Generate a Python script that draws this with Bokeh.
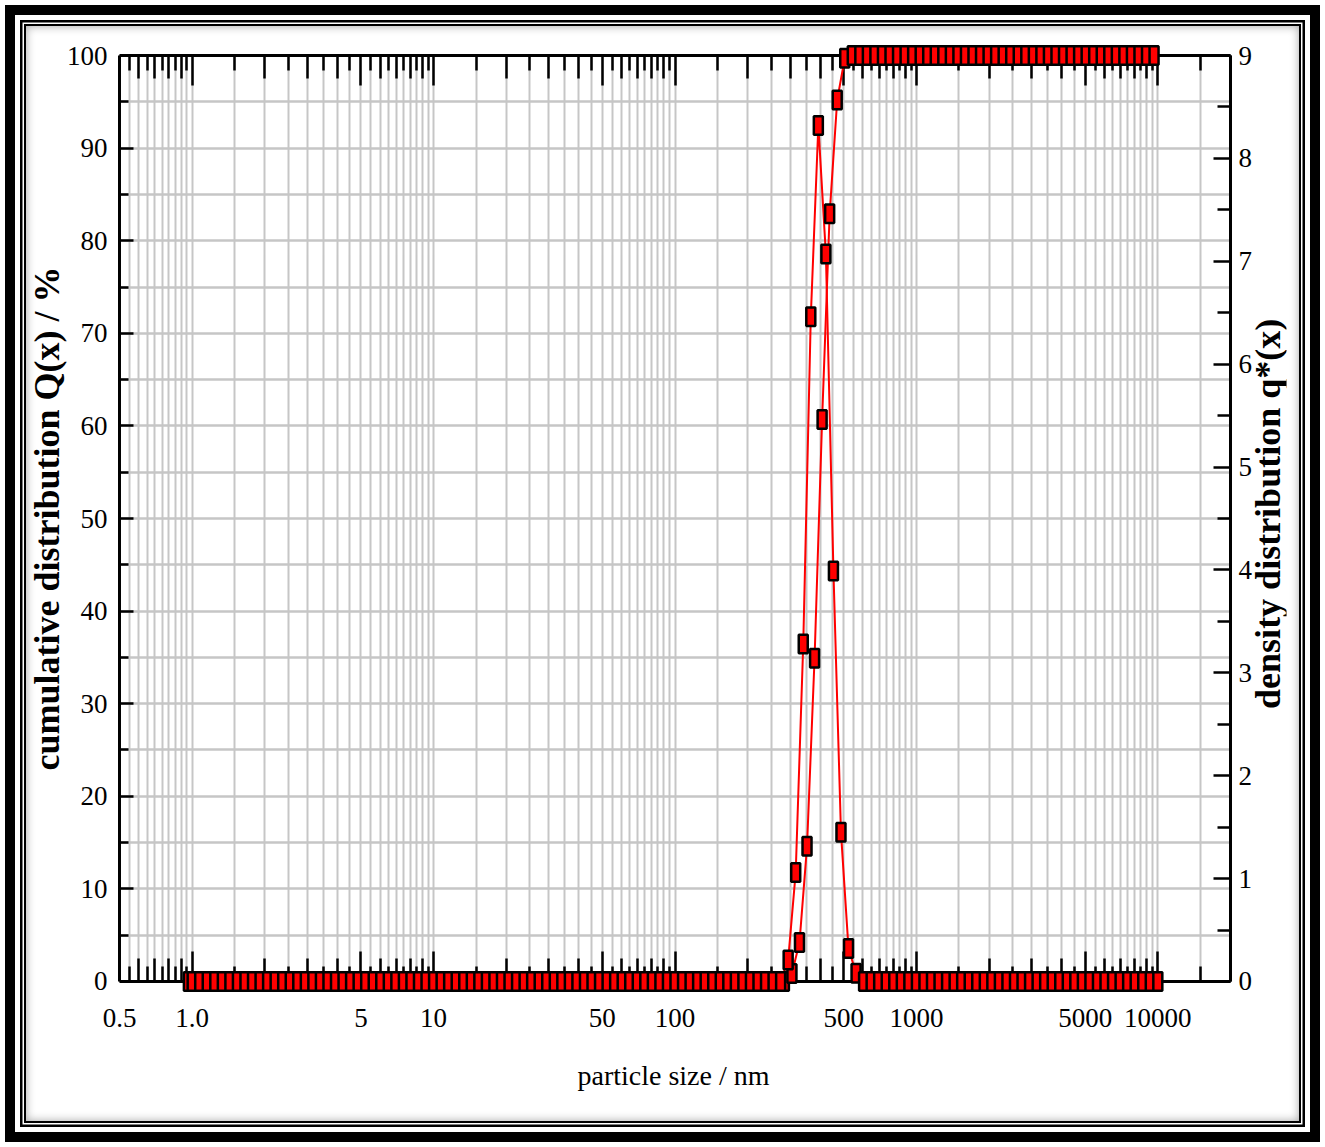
import math
from bokeh.plotting import figure
from bokeh.models import (Range1d, LinearAxis, LogAxis, FixedTicker, CustomJSTickFormatter,
                          ColumnDataSource, Label, Title)
from bokeh.embed import file_html
from bokeh.resources import INLINE

# ---------------- data ----------------
# size classes: geometric grid, 32 classes per decade starting at 1 nm
channels_per_decade = 32
n_classes = 129
# cumulative distribution Q(x) in %, given at the class upper edges
Q_percent = ([0.0] * 80
             + [0.86, 4.2, 14.6, 34.9, 60.7, 82.9, 95.2, 99.7]
             + [100.0] * 41)
# density distribution q*(x), given at the class centres
q_density = ([0.0] * 79
             + [0.21, 1.06, 3.28, 6.46, 8.32, 7.07, 3.99, 1.45, 0.32, 0.08]
             + [0.0] * 40)

size_centres_nm = [10 ** (k / channels_per_decade) for k in range(n_classes)]
size_edges_nm = [10 ** ((k - 0.5) / channels_per_decade) for k in range(n_classes)]

x_min, x_max = 0.5, 20000
x_tick_values = [0.5, 1, 5, 10, 50, 100, 500, 1000, 5000, 10000]
x_tick_labels = ["0.5", "1.0", "5", "10", "50", "100", "500", "1000", "5000", "10000"]
Q_ticks = list(range(0, 101, 10))
q_ticks = list(range(0, 10))

# ---------------- tick / grid positions ----------------
decades = [0.1, 1, 10, 100, 1000, 10000]
int_minor, half_minor = [], []
for d in decades:
    for m in range(1, 10):
        v = m * d
        h = (m + 0.5) * d
        if x_min < v <= x_max and m not in (1, 5):
            int_minor.append(v)
        if x_min < h < x_max:
            half_minor.append(h)
int_minor = sorted(set(int_minor))
half_minor = sorted(set(half_minor))
grid_x = sorted(set(int_minor + half_minor + [t for t in x_tick_values if t > x_min]))
grid_x = [g for g in grid_x if g < x_max]

# ---------------- geometry ----------------
FONT = "Liberation Serif"
OFF = 15                 # page frame (margin + border) drawn with CSS
PLOT_W = 1111            # width of the 0.5 .. 20000 axis in px
PX_DEC = PLOT_W / math.log10(x_max / x_min)
FRAME_W = 1167           # frame extends right of the axis to hold the right title
pad = 1.512              # extra y room so that the border markers are not clipped
x_end = x_min * 10 ** (FRAME_W / PX_DEC)

p = figure(frame_width=FRAME_W, frame_height=954,
           min_border_left=119 - OFF, min_border_right=24,
           min_border_top=41 - OFF, min_border_bottom=152 - OFF,
           x_axis_type="log", x_range=Range1d(x_min, x_end),
           y_range=Range1d(-pad, 100 + pad),
           output_backend="svg", toolbar_location=None)
p.extra_y_ranges = {"q": Range1d(-pad * 0.09, 9 + pad * 0.09)}
p.outline_line_color = None
p.background_fill_color = None
p.border_fill_color = None
p.styles = {
    "margin": "5px",
    "border": "10px solid black",
    "background-color": "white",
    "box-shadow": ("inset 0 0 0 5px white, inset 0 0 0 7.5px black, "
                   "inset 0 0 0 9px white, inset 0 0 0 11px black, "
                   "inset 0 0 10px 11px rgba(0,0,0,0.35)"),
}

blank = CustomJSTickFormatter(code="return ''")
label_fmt = CustomJSTickFormatter(
    args=dict(vals=x_tick_values, labels=x_tick_labels),
    code="""
    for (let i = 0; i < vals.length; i++) {
        if (Math.abs(Math.log10(tick) - Math.log10(vals[i])) < 1e-6) { return labels[i]; }
    }
    return '';
    """)

def style_axis(ax):
    ax.axis_line_color = "black"
    ax.axis_line_width = 3
    ax.major_tick_line_color = "black"
    ax.major_tick_line_width = 2.5
    ax.minor_tick_line_color = "black"
    ax.minor_tick_line_width = 2.5
    ax.major_tick_out = 0
    ax.minor_tick_out = 0
    ax.major_label_text_font = FONT
    ax.major_label_text_font_size = "27px"
    ax.major_label_text_color = "black"
    ax.axis_label_text_font = FONT
    ax.axis_label_text_color = "black"

def tick_only(ax):
    ax.major_label_text_font_size = "1px"
    ax.major_label_standoff = 0

# bottom: labelled axis at frame edge (no line / ticks)
xa = p.below[0]
style_axis(xa)
xa.ticker = FixedTicker(ticks=x_tick_values, minor_ticks=[])
xa.formatter = label_fmt
xa.axis_line_color = None
xa.major_tick_line_color = None
xa.minor_tick_line_color = None
xa.major_tick_in = 0
xa.minor_tick_in = 0
xa.major_label_standoff = 13

# bottom: line and ticks pinned at Q = 0
xb = LogAxis(ticker=FixedTicker(ticks=x_tick_values, minor_ticks=int_minor), formatter=blank,
             fixed_location=0, bounds=(x_min, x_max))
style_axis(xb)
tick_only(xb)
xb.major_tick_in = 30
xb.minor_tick_in = 23
p.add_layout(xb, "below")
xb2 = LogAxis(ticker=FixedTicker(ticks=half_minor, minor_ticks=[]), formatter=blank,
              fixed_location=0, bounds=(x_min, x_max))
style_axis(xb2)
tick_only(xb2)
xb2.axis_line_color = None
xb2.major_tick_in = 15
p.add_layout(xb2, "below")

# x-axis title
p.add_layout(Title(text="particle size / nm", align="left", offset=458, standoff=56,
                   text_font=FONT, text_font_size="28px", text_font_style="normal",
                   text_color="black"), "below")

# top axes pinned at Q = 100
xt = LogAxis(ticker=FixedTicker(ticks=x_tick_values, minor_ticks=int_minor), formatter=blank,
             fixed_location=100, bounds=(x_min, x_max))
style_axis(xt)
tick_only(xt)
xt.major_tick_in = 30
xt.minor_tick_in = 23
p.add_layout(xt, "above")
xt2 = LogAxis(ticker=FixedTicker(ticks=half_minor, minor_ticks=[]), formatter=blank,
              fixed_location=100, bounds=(x_min, x_max))
style_axis(xt2)
tick_only(xt2)
xt2.axis_line_color = None
xt2.major_tick_in = 15
p.add_layout(xt2, "above")

# left axis
ya = p.left[0]
style_axis(ya)
ya.ticker = FixedTicker(ticks=Q_ticks, minor_ticks=[t + 5 for t in Q_ticks[:-1]])
ya.bounds = (0, 100)
ya.major_tick_in = 14
ya.minor_tick_in = 9
ya.major_label_standoff = 12
ya.axis_label = "cumulative distribution Q(x) / %"
ya.axis_label_text_font_size = "36px"
ya.axis_label_text_font_style = "bold"
ya.axis_label_standoff = -3

# right axis pinned at x = 20000 nm
yr = LinearAxis(y_range_name="q", fixed_location=x_max,
                ticker=FixedTicker(ticks=q_ticks, minor_ticks=[t + 0.5 for t in q_ticks[:-1]]))
style_axis(yr)
yr.bounds = (0, 9)
yr.major_tick_in = 17
yr.minor_tick_in = 13
yr.major_label_standoff = 8
p.add_layout(yr, "right")

# right-hand axis title, reading bottom to top
p.add_layout(Label(x=x_max * 10 ** (37 / PX_DEC), y=50.5, text="density distribution q*(x)",
                   angle=math.pi / 2, text_align="center", text_baseline="middle",
                   text_font=FONT, text_font_size="36px", text_font_style="bold",
                   text_color="black"))

# grids
gx = p.xgrid[0]
gx.ticker = FixedTicker(ticks=grid_x, minor_ticks=[])
gx.grid_line_color = "#c6c6c6"
gx.grid_line_width = 2
gx.cross_bounds = (0, 100)
gy = p.ygrid[0]
gy.ticker = FixedTicker(ticks=list(range(5, 100, 5)), minor_ticks=[])
gy.grid_line_color = "#c6c6c6"
gy.grid_line_width = 2.5
gy.cross_bounds = (x_min, x_max)

# series
src_Q = ColumnDataSource(dict(x=size_edges_nm, y=Q_percent))
src_q = ColumnDataSource(dict(x=size_centres_nm, y=q_density))
p.line("x", "y", source=src_Q, line_color="#ff0000", line_width=2, level="overlay")
p.line("x", "y", source=src_q, line_color="#ff0000", line_width=2, y_range_name="q",
       level="overlay")
p.rect("x", "y", width=9, height=18.5, width_units="screen", height_units="screen",
       source=src_Q, fill_color="#ff0000", line_color="black", line_width=2.5,
       level="overlay")
p.rect("x", "y", width=9, height=18.5, width_units="screen", height_units="screen",
       source=src_q, fill_color="#ff0000", line_color="black", line_width=2.5,
       y_range_name="q", level="overlay")

open("out.html", "w").write(file_html(p, INLINE))
